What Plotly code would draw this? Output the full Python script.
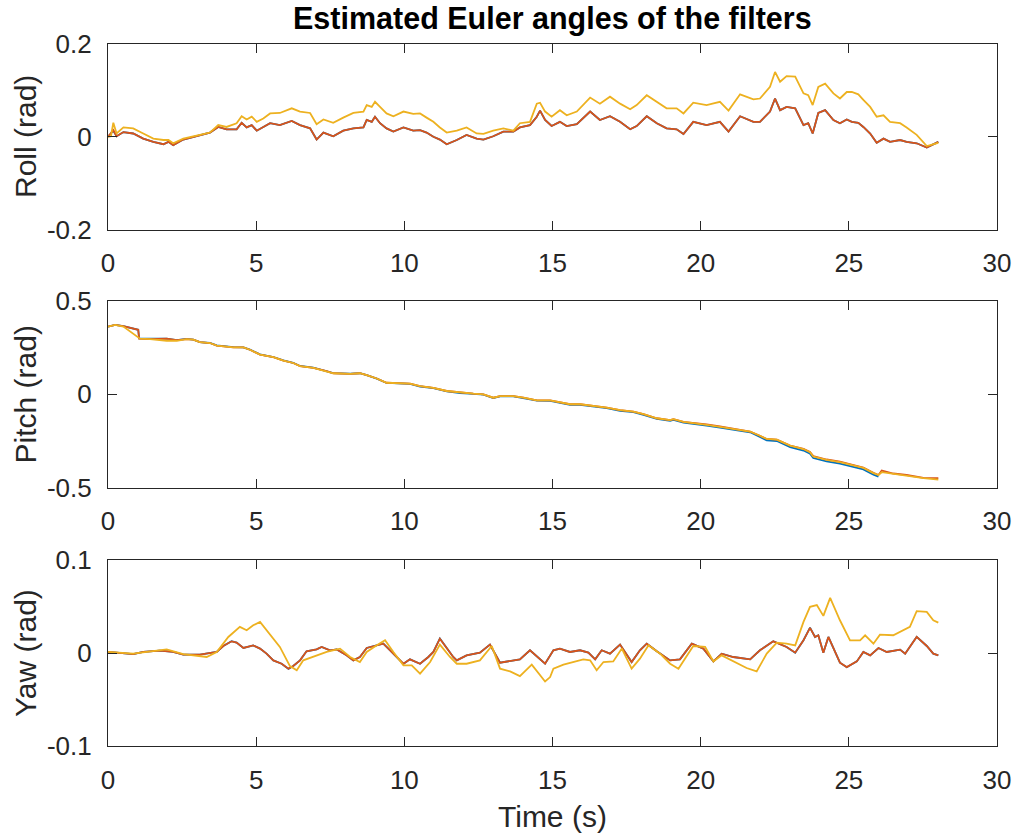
import plotly.graph_objects as go

# ---------------- data ----------------
# Roll
t_roll = [0.00,0.18,0.29,0.52,0.85,1.19,1.53,1.87,2.04,2.20,2.54,3.10,3.44,3.72,4.00,4.34,4.51,4.68,4.85,5.02,
          5.24,5.47,5.80,6.20,6.48,6.82,7.04,7.27,7.60,7.94,8.28,8.62,8.73,8.90,9.01,9.18,9.40,9.63,9.97,10.30,
          10.53,10.75,10.98,11.20,11.43,11.77,12.10,12.44,12.67,13.00,13.34,13.68,13.90,14.24,14.47,14.58,14.75,14.97,15.25,15.48,
          15.82,16.27,16.60,16.94,17.28,17.62,17.84,18.18,18.52,18.85,19.19,19.42,19.75,20.20,20.65,20.94,21.33,21.78,22.00,22.34,
          22.51,22.68,22.90,23.19,23.47,23.63,23.78,23.97,24.20,24.48,24.70,24.93,25.10,25.32,25.49,25.72,25.94,26.17,26.39,26.73,
          26.95,27.29,27.63,28.02]
roll_red = [0.000,0.014,0.001,0.010,0.007,-0.004,-0.011,-0.016,-0.011,-0.018,-0.006,0.004,0.009,0.021,0.016,0.016,0.030,0.020,0.025,0.013,
            0.021,0.029,0.025,0.034,0.025,0.018,-0.006,0.009,0.001,0.013,0.018,0.020,0.036,0.032,0.043,0.029,0.018,0.011,0.020,0.013,
            0.014,0.009,0.000,-0.006,-0.016,-0.007,0.004,-0.004,-0.006,0.001,0.011,0.011,0.020,0.025,0.043,0.056,0.036,0.023,0.032,0.023,
            0.027,0.054,0.036,0.044,0.032,0.016,0.023,0.044,0.029,0.018,0.016,0.006,0.032,0.025,0.032,0.011,0.044,0.032,0.032,0.054,
            0.082,0.057,0.064,0.061,0.025,0.029,0.007,0.051,0.057,0.036,0.029,0.037,0.032,0.030,0.021,0.007,-0.013,-0.004,-0.011,-0.007,
            -0.011,-0.014,-0.023,-0.011]
roll_blue = [0.000,0.013,0.001,0.010,0.007,-0.004,-0.011,-0.016,-0.011,-0.018,-0.006,0.004,0.009,0.021,0.016,0.016,0.030,0.020,0.025,0.013,
             0.021,0.029,0.025,0.034,0.025,0.018,-0.006,0.009,0.001,0.013,0.018,0.020,0.036,0.032,0.043,0.029,0.018,0.011,0.020,0.013,
             0.014,0.009,0.000,-0.006,-0.016,-0.007,0.004,-0.004,-0.006,0.001,0.011,0.011,0.020,0.025,0.043,0.056,0.036,0.023,0.032,0.023,
             0.027,0.054,0.036,0.044,0.032,0.016,0.023,0.044,0.029,0.018,0.016,0.006,0.032,0.025,0.032,0.011,0.044,0.032,0.032,0.054,
             0.082,0.057,0.064,0.061,0.025,0.029,0.007,0.051,0.057,0.036,0.029,0.037,0.032,0.030,0.021,0.007,-0.013,-0.004,-0.011,-0.007,
             -0.011,-0.014,-0.023,-0.011]
t_roll_y = [0.00,0.10,0.18,0.29,0.52,0.85,1.19,1.53,1.87,2.04,2.20,2.54,3.10,3.44,3.72,4.00,4.34,4.51,4.68,4.85,
            5.02,5.24,5.47,5.80,6.20,6.48,6.82,7.04,7.27,7.60,7.94,8.28,8.62,8.73,8.90,9.01,9.18,9.40,9.63,9.97,
            10.30,10.53,10.75,10.98,11.20,11.43,11.77,12.10,12.44,12.67,13.00,13.34,13.68,13.90,14.24,14.47,14.58,14.75,14.97,15.25,
            15.48,15.82,16.27,16.60,16.94,17.28,17.62,17.84,18.18,18.52,18.85,19.19,19.42,19.75,20.20,20.65,20.94,21.33,21.78,22.00,
            22.34,22.51,22.68,22.90,23.19,23.47,23.63,23.78,23.97,24.20,24.48,24.70,24.93,25.10,25.32,25.49,25.72,25.94,26.17,26.39,
            26.73,26.95,27.29,27.63,28.02]
roll_yel = [0.000,0.001,0.030,0.007,0.020,0.018,0.007,-0.004,-0.007,-0.007,-0.014,-0.004,0.004,0.009,0.025,0.021,0.029,0.044,0.037,0.043,
            0.032,0.039,0.050,0.051,0.061,0.054,0.051,0.027,0.037,0.030,0.041,0.051,0.054,0.068,0.064,0.075,0.064,0.050,0.044,0.054,
            0.049,0.050,0.041,0.032,0.020,0.009,0.013,0.020,0.007,0.006,0.013,0.018,0.013,0.029,0.032,0.071,0.073,0.054,0.043,0.057,
            0.046,0.054,0.084,0.071,0.086,0.071,0.059,0.068,0.089,0.075,0.061,0.061,0.050,0.073,0.068,0.075,0.056,0.091,0.080,0.082,
            0.107,0.139,0.118,0.130,0.129,0.093,0.089,0.068,0.107,0.114,0.093,0.082,0.096,0.096,0.091,0.079,0.064,0.043,0.046,0.032,
            0.029,0.020,0.004,-0.020,-0.013]

# Pitch
t_pitch_r = [0.00,0.24,0.52,0.74,1.02,1.05,1.42,1.98,2.32,2.65,2.88,3.10,3.44,3.67,4.23,4.57,4.79,5.13,5.58,5.92,
             6.25,6.48,6.93,7.38,7.60,8.17,8.50,8.73,9.07,9.40,9.85,10.19,10.53,10.98,11.43,11.88,12.33,12.67,13.00,13.23,
             13.68,14.02,14.47,14.92,15.25,15.59,15.93,16.38,16.83,17.28,17.73,18.07,18.52,18.97,19.08,19.42,19.87,20.20,20.65,21.10,
             21.67,22.00,22.23,22.57,23.02,23.47,23.69,23.80,24.25,24.70,25.15,25.49,25.83,26.00,26.11,26.50,26.95,27.52,28.02]
pitch_red = [0.363,0.372,0.365,0.355,0.346,0.298,0.296,0.298,0.290,0.296,0.293,0.280,0.275,0.261,0.252,0.252,0.239,0.213,0.199,0.181,
             0.168,0.151,0.142,0.124,0.113,0.110,0.113,0.103,0.085,0.062,0.059,0.057,0.044,0.035,0.018,0.009,0.004,0.000,-0.018,-0.009,
             -0.009,-0.018,-0.032,-0.032,-0.041,-0.053,-0.053,-0.062,-0.071,-0.085,-0.092,-0.106,-0.128,-0.138,-0.133,-0.147,-0.154,-0.161,-0.172,-0.185,
             -0.199,-0.222,-0.239,-0.243,-0.274,-0.292,-0.309,-0.331,-0.349,-0.361,-0.379,-0.392,-0.420,-0.432,-0.408,-0.424,-0.432,-0.447,-0.449]
t_pitch_b = [0.00,0.24,0.52,0.74,1.02,1.05,1.42,1.98,2.32,2.65,2.88,3.10,3.44,3.67,4.23,4.57,4.79,5.13,5.58,5.92,
             6.25,6.48,6.93,7.38,7.60,8.17,8.50,8.73,9.07,9.40,9.85,10.19,10.53,10.98,11.43,11.88,12.33,12.67,13.00,13.23,
             13.68,14.02,14.47,14.92,15.25,15.59,15.93,16.38,16.83,17.28,17.73,18.07,18.52,18.97,19.08,19.42,19.87,20.20,20.65,21.10,
             21.67,22.00,22.23,22.57,23.02,23.47,23.69,23.80,24.25,24.70,25.15,25.49,25.83,26.00]
pitch_blue = [0.363,0.372,0.365,0.355,0.346,0.300,0.298,0.298,0.290,0.297,0.293,0.280,0.275,0.262,0.253,0.252,0.240,0.214,0.200,0.182,
              0.169,0.152,0.143,0.124,0.114,0.111,0.113,0.103,0.084,0.061,0.058,0.056,0.042,0.033,0.016,0.007,0.003,-0.002,-0.020,-0.011,
              -0.011,-0.020,-0.034,-0.035,-0.044,-0.056,-0.056,-0.065,-0.074,-0.088,-0.095,-0.110,-0.132,-0.142,-0.137,-0.151,-0.158,-0.167,-0.178,-0.190,
              -0.203,-0.228,-0.246,-0.250,-0.283,-0.301,-0.318,-0.341,-0.359,-0.371,-0.389,-0.402,-0.430,-0.441]
t_pitch_y = [0.00,0.24,0.52,0.74,1.02,1.08,1.42,1.98,2.32,2.65,2.88,3.10,3.44,3.67,4.23,4.57,4.79,5.13,5.58,5.92,
             6.25,6.48,6.93,7.38,7.60,8.17,8.50,8.73,9.07,9.40,9.85,10.19,10.53,10.98,11.43,11.88,12.33,12.67,13.00,13.23,
             13.68,14.02,14.47,14.92,15.25,15.59,15.93,16.38,16.83,17.28,17.73,18.07,18.52,18.97,19.08,19.42,19.87,20.20,20.65,21.10,
             21.67,22.00,22.23,22.57,23.02,23.47,23.69,23.80,24.25,24.70,25.15,25.49,25.83,26.00,26.11,26.50,26.95,27.52,28.02]
pitch_yel = [0.363,0.372,0.363,0.337,0.301,0.298,0.296,0.287,0.287,0.296,0.293,0.280,0.275,0.261,0.252,0.252,0.239,0.213,0.199,0.181,
             0.168,0.151,0.142,0.124,0.113,0.110,0.113,0.103,0.085,0.062,0.059,0.057,0.044,0.035,0.018,0.009,0.004,0.000,-0.018,-0.009,
             -0.009,-0.018,-0.032,-0.032,-0.041,-0.053,-0.053,-0.062,-0.071,-0.085,-0.092,-0.106,-0.128,-0.138,-0.133,-0.147,-0.154,-0.163,-0.174,-0.186,
             -0.199,-0.222,-0.239,-0.243,-0.275,-0.293,-0.310,-0.333,-0.351,-0.363,-0.381,-0.394,-0.422,-0.432,-0.417,-0.426,-0.434,-0.449,-0.457]

# Yaw
t_yaw = [0.00,0.40,0.85,1.19,1.75,2.20,2.54,3.10,3.44,3.67,3.89,4.17,4.34,4.57,4.90,5.13,5.35,5.58,5.86,6.09,
         6.25,6.48,6.70,7.04,7.21,7.49,7.72,8.05,8.28,8.50,8.73,9.07,9.29,9.52,9.74,9.97,10.19,10.53,10.81,10.98,
         11.20,11.43,11.65,11.77,12.10,12.55,12.89,13.23,13.45,13.90,14.24,14.58,14.75,15.03,15.25,15.59,15.93,16.21,16.44,16.66,
         16.94,17.28,17.67,17.95,18.18,18.52,18.97,19.30,19.70,20.09,20.43,20.71,21.10,21.67,22.00,22.45,22.90,23.19,23.47,23.69,
         23.86,23.97,24.14,24.31,24.48,24.70,24.93,25.27,25.49,25.72,26.00,26.28,26.73,26.90,27.29,27.63,27.85,28.02]
yaw_red = [0.0011,0.0000,-0.0011,0.0011,0.0025,0.0011,-0.0018,-0.0018,0.0004,0.0011,0.0075,0.0125,0.0111,0.0054,0.0082,0.0047,-0.0007,-0.0079,-0.0115,-0.0168,
           -0.0140,-0.0079,0.0018,0.0039,0.0065,0.0029,0.0039,-0.0025,-0.0079,-0.0043,0.0054,0.0082,0.0100,0.0029,-0.0043,-0.0115,-0.0068,-0.0115,-0.0043,0.0011,
           0.0154,0.0047,-0.0043,-0.0079,-0.0025,0.0004,0.0090,-0.0104,-0.0090,-0.0068,0.0029,-0.0061,-0.0115,0.0029,0.0047,0.0011,0.0029,0.0004,-0.0068,0.0029,
           -0.0007,0.0090,-0.0097,0.0029,0.0100,0.0018,-0.0079,-0.0068,0.0100,0.0047,-0.0090,-0.0007,-0.0043,-0.0068,0.0029,0.0125,0.0065,0.0004,0.0136,0.0269,
           0.0172,0.0190,0.0004,0.0172,0.0047,-0.0104,-0.0151,-0.0090,0.0011,-0.0025,0.0054,0.0011,0.0036,-0.0007,0.0172,0.0075,-0.0007,-0.0025]
yaw_blue = [0.0011,0.0000,-0.0011,0.0011,0.0025,0.0011,-0.0018,-0.0018,0.0004,0.0011,0.0075,0.0126,0.0111,0.0054,0.0082,0.0047,-0.0007,-0.0079,-0.0115,-0.0170,
            -0.0140,-0.0079,0.0018,0.0039,0.0065,0.0029,0.0039,-0.0025,-0.0079,-0.0043,0.0054,0.0082,0.0101,0.0029,-0.0043,-0.0116,-0.0068,-0.0115,-0.0043,0.0011,
            0.0156,0.0047,-0.0043,-0.0079,-0.0025,0.0004,0.0091,-0.0104,-0.0090,-0.0068,0.0029,-0.0061,-0.0115,0.0029,0.0047,0.0011,0.0029,0.0004,-0.0068,0.0029,
            -0.0007,0.0090,-0.0097,0.0029,0.0100,0.0018,-0.0079,-0.0068,0.0100,0.0047,-0.0090,-0.0007,-0.0043,-0.0068,0.0029,0.0126,0.0065,0.0004,0.0137,0.0272,
            0.0172,0.0190,0.0004,0.0172,0.0047,-0.0104,-0.0152,-0.0090,0.0011,-0.0025,0.0054,0.0011,0.0036,-0.0007,0.0174,0.0075,-0.0007,-0.0025]
t_yaw_y = [0.00,0.85,1.98,2.54,3.33,3.67,4.06,4.45,4.68,4.90,5.13,5.35,5.80,6.14,6.37,6.59,6.93,7.38,7.83,8.17,
           8.50,8.73,9.07,9.35,9.63,9.97,10.25,10.53,10.87,11.20,11.54,11.77,12.10,12.55,12.95,13.23,13.57,13.90,14.30,14.75,
           14.92,15.03,15.37,15.70,16.04,16.27,16.49,16.72,17.05,17.34,17.67,17.95,18.24,18.63,18.97,19.25,19.75,20.15,20.43,20.71,
           21.10,21.55,21.89,22.23,22.57,22.90,23.19,23.47,23.69,23.92,24.14,24.37,24.70,25.04,25.38,25.55,25.83,26.05,26.50,26.84,
           27.06,27.29,27.63,27.85,28.02]
yaw_yel = [0.0011,-0.0007,0.0039,-0.0011,-0.0043,0.0011,0.0172,0.0280,0.0244,0.0297,0.0333,0.0244,0.0065,-0.0140,-0.0186,-0.0079,-0.0043,0.0011,0.0047,-0.0043,
           -0.0097,0.0011,0.0082,0.0136,0.0011,-0.0133,-0.0133,-0.0222,-0.0097,0.0090,-0.0043,-0.0115,-0.0115,-0.0079,0.0075,-0.0168,-0.0197,-0.0247,-0.0125,-0.0305,
           -0.0258,-0.0168,-0.0125,-0.0097,-0.0068,-0.0079,-0.0186,-0.0097,-0.0090,0.0047,-0.0168,-0.0061,0.0082,-0.0007,-0.0115,-0.0168,0.0075,0.0065,-0.0090,-0.0025,
           -0.0090,-0.0161,-0.0197,-0.0007,0.0111,0.0100,0.0082,0.0333,0.0495,0.0513,0.0398,0.0591,0.0351,0.0136,0.0136,0.0190,0.0100,0.0197,0.0190,0.0244,
           0.0280,0.0448,0.0441,0.0351,0.0326]

x_ticks = [0, 5, 10, 15, 20, 25, 30]
roll_ticks = [-0.2, 0, 0.2]
roll_ticktext = ["-0.2", "0", "0.2"]
pitch_ticks = [-0.5, 0, 0.5]
pitch_ticktext = ["-0.5", "0", "0.5"]
yaw_ticks = [-0.1, 0, 0.1]
yaw_ticktext = ["-0.1", "0", "0.1"]
y_titles = ["Roll (rad)", "Pitch (rad)", "Yaw (rad)"]

# ---------------- figure ----------------
W, H = 1015, 836
BLUE, RED, YEL = "#0072BD", "#D95319", "#EDB120"
AX = "#262626"
FONT = "Liberation Sans, Arial, Helvetica, sans-serif"
LW = 1.8

fig = go.Figure()
series = [
    (1, [(t_roll, roll_blue, BLUE), (t_roll, roll_red, RED), (t_roll_y, roll_yel, YEL)]),
    (2, [(t_pitch_b, pitch_blue, BLUE), (t_pitch_r, pitch_red, RED), (t_pitch_y, pitch_yel, YEL)]),
    (3, [(t_yaw, yaw_blue, BLUE), (t_yaw, yaw_red, RED), (t_yaw_y, yaw_yel, YEL)]),
]
for k, lst in series:
    suffix = "" if k == 1 else str(k)
    for tx, vy, col in lst:
        fig.add_trace(go.Scatter(x=tx, y=vy, mode="lines", line=dict(color=col, width=LW),
                                 xaxis="x" + suffix, yaxis="y" + suffix, showlegend=False,
                                 hoverinfo="skip"))

x0, x1 = 108 / W, 997 / W
doms = [(1 - 230 / H, 1 - 43.5 / H), (1 - 487.7 / H, 1 - 301 / H), (1 - 746.3 / H, 1 - 559.7 / H)]
yranges = [(-0.2, 0.2), (-0.5, 0.5), (-0.1, 0.1)]
yticks = [(roll_ticks, roll_ticktext), (pitch_ticks, pitch_ticktext), (yaw_ticks, yaw_ticktext)]

common = dict(showline=True, linecolor=AX, linewidth=1.2, mirror="ticks", ticks="inside",
              ticklen=9, tickwidth=1.2, tickcolor=AX, showgrid=False, zeroline=False,
              automargin=False, tickfont=dict(family=FONT, size=26, color=AX))
layout = {}
for i in range(3):
    s = "" if i == 0 else str(i + 1)
    layout["xaxis" + s] = dict(common, domain=[x0, x1], range=[0, 30], tickvals=x_ticks,
                               anchor="y" + s, ticklabelstandoff=10)
    layout["yaxis" + s] = dict(common, domain=list(doms[i]), range=list(yranges[i]),
                               tickvals=yticks[i][0], ticktext=yticks[i][1], anchor="x" + s,
                               ticklabelstandoff=10)

anns = []
ycent = [137, 394.5, 653]
for i, txt in enumerate(y_titles):
    anns.append(dict(text=txt, x=25 / W, y=1 - ycent[i] / H, xref="paper", yref="paper",
                     xanchor="center", yanchor="middle", textangle=-90, showarrow=False,
                     font=dict(family=FONT, size=30, color=AX)))
anns.append(dict(text="Time (s)", x=552.5 / W, y=1 - 816 / H, xref="paper", yref="paper",
                 xanchor="center", yanchor="middle", showarrow=False,
                 font=dict(family=FONT, size=30, color=AX)))
anns.append(dict(text="<b>Estimated Euler angles of the filters</b>", x=552.5 / W, y=1 - 19 / H,
                 xref="paper", yref="paper", xanchor="center", yanchor="middle", showarrow=False,
                 font=dict(family=FONT, size=30.5, color="#000000")))

fig.update_layout(template="none", width=W, height=H,
                  margin=dict(l=0, r=0, t=0, b=0, pad=0, autoexpand=False),
                  paper_bgcolor="white", plot_bgcolor="white", annotations=anns, **layout)

fig.write_html("out.html")
